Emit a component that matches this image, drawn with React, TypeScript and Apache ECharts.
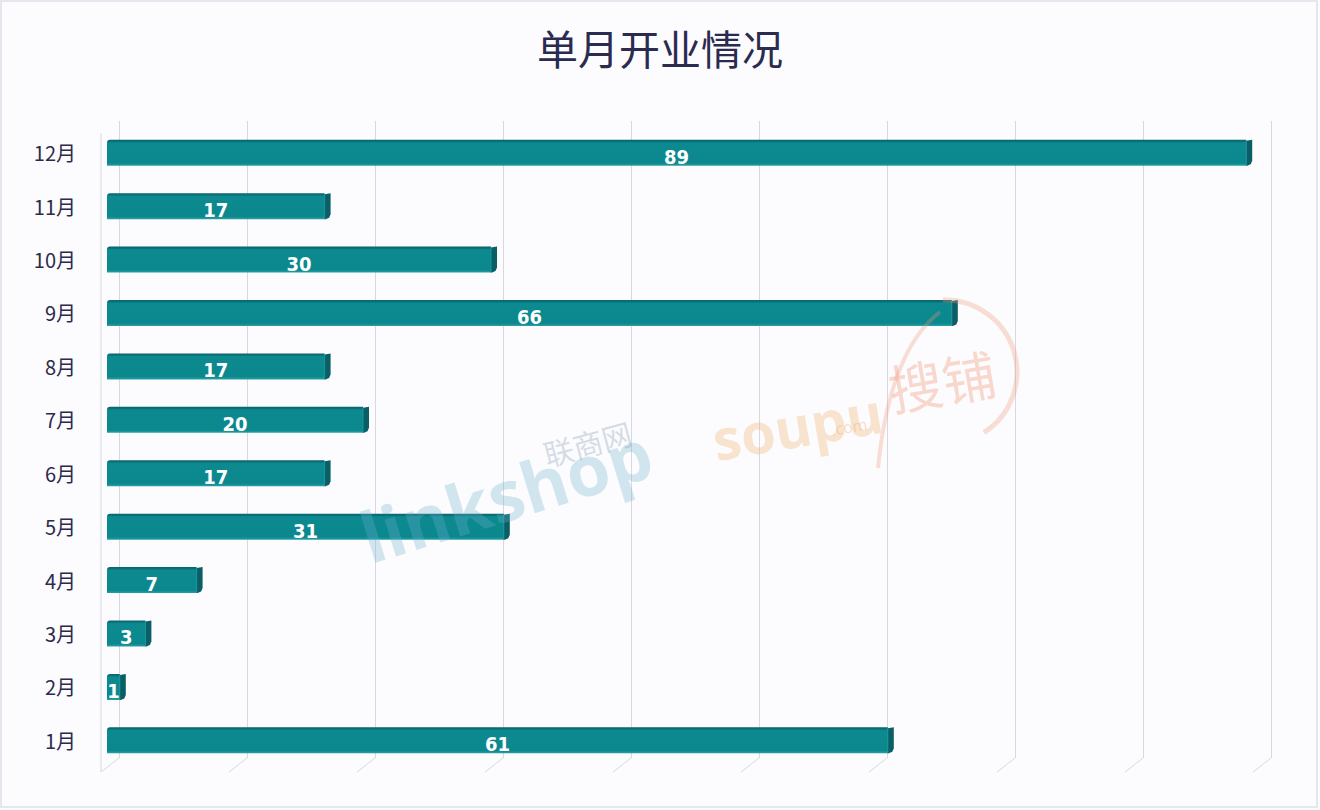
import React, { useEffect, useRef } from "react";
import * as echarts from "echarts";

const titleText = "单月开业情况";
const months = ["1月", "2月", "3月", "4月", "5月", "6月", "7月", "8月", "9月", "10月", "11月", "12月"];
const openings = [61, 1, 3, 7, 31, 17, 20, 17, 66, 30, 17, 89];
const gridTicks = [0, 10, 20, 30, 40, 50, 60, 70, 80, 90];

export default function App() {
  const ref = useRef<HTMLDivElement>(null);
  useEffect(() => {
    if (!ref.current) return;
    const chart = echarts.init(ref.current, null, { renderer: "svg" });
    const bevelData = openings.map((v, i) => [v, i]);
    chart.setOption({
      animation: false,
      backgroundColor: "#fcfcfe",
      title: {
        text: titleText,
        left: "center",
        top: 21,
        textStyle: {
          fontFamily: "Noto Sans CJK SC",
          fontSize: 41,
          fontWeight: "normal",
          color: "#2b2b50",
        },
      },
      graphic: [
        {
          type: "rect",
          shape: { x: 1, y: 1, width: 1316, height: 806 },
          style: { fill: "none", stroke: "#e4e8ee", lineWidth: 2 },
          z: -10,
          silent: true,
        },
        {
          type: "text",
          x: 352,
          y: 505,
          rotation: 0.3,
          style: {
            text: "linkshop",
            fontSize: 70,
            fontWeight: "bold",
            fontFamily: "Open Sans",
            fill: "rgba(110,175,205,0.3)",
          },
          z: 20,
          silent: true,
        },
        {
          type: "text",
          x: 540,
          y: 440,
          rotation: 0.26,
          style: {
            text: "联商网",
            fontSize: 30,
            fontFamily: "Noto Sans CJK SC",
            fill: "rgba(140,160,180,0.35)",
          },
          z: 20,
          silent: true,
        },
        {
          type: "text",
          x: 708,
          y: 412,
          rotation: 0.17,
          style: {
            text: "soupu",
            fontSize: 56,
            fontWeight: "bold",
            fontFamily: "Open Sans",
            fill: "rgba(240,175,110,0.33)",
          },
          z: 20,
          silent: true,
        },
        {
          type: "text",
          x: 830,
          y: 422,
          rotation: 0.17,
          style: {
            text: ".com",
            fontSize: 16,
            fontFamily: "Open Sans",
            fill: "rgba(240,175,110,0.4)",
          },
          z: 20,
          silent: true,
        },
        {
          type: "text",
          x: 884,
          y: 362,
          rotation: 0.17,
          style: {
            text: "搜铺",
            fontSize: 54,
            fontFamily: "Noto Sans CJK SC",
            fill: "rgba(240,150,120,0.36)",
          },
          z: 20,
          silent: true,
        },
        {
          type: "arc",
          shape: { cx: 945, cy: 372, r: 72, startAngle: -1.6, endAngle: 1.0, clockwise: true },
          style: { stroke: "rgba(240,150,120,0.3)", lineWidth: 5, fill: "none" },
          z: 20,
          silent: true,
        },
        {
          type: "bezierCurve",
          shape: { x1: 940, y1: 312, cpx1: 890, cpy1: 350, x2: 878, y2: 468 },
          style: { stroke: "rgba(240,150,120,0.3)", lineWidth: 4, fill: "none" },
          z: 20,
          silent: true,
        },
      ],
      grid: [
        { left: 107, width: 1152, top: 126, bottom: 43 },
        { left: 119, width: 1152, top: 121, bottom: 52 },
      ],
      xAxis: [
        { type: "value", gridIndex: 0, min: 0, max: 90, interval: 10, show: false },
        {
          type: "value",
          gridIndex: 1,
          min: 0,
          max: 90,
          interval: 10,
          axisLabel: { show: false },
          axisLine: { show: false },
          axisTick: { show: false },
          splitLine: { show: true, lineStyle: { color: "#d7d8e2", width: 1 } },
        },
      ],
      yAxis: [
        {
          type: "category",
          gridIndex: 0,
          data: months,
          axisLine: { show: false },
          axisTick: { show: false },
          axisLabel: {
            margin: 31,
            fontSize: 20,
            fontFamily: "Noto Sans CJK SC",
            color: "#2c2a4c",
          },
        },
        {
          type: "value",
          gridIndex: 1,
          min: 0,
          max: 1,
          show: false,
          splitLine: { show: false },
        },
      ],
      series: [
        {
          type: "custom",
          xAxisIndex: 1,
          yAxisIndex: 1,
          clip: false,
          silent: true,
          z: 1,
          data: gridTicks.map((t) => [t]),
          renderItem: (params: any, api: any) => {
            const v = api.value(0);
            const p = api.coord([v, 0]);
            const top = api.coord([v, 1]);
            const style = { stroke: "#d7d8e2", lineWidth: 1 };
            const children: any[] = [
              {
                type: "line",
                shape: { x1: p[0], y1: p[1], x2: p[0] - 18, y2: p[1] + 14 },
                style,
              },
            ];
            if (v === 0) {
              children.push({
                type: "line",
                shape: { x1: p[0] - 18, y1: p[1] + 14, x2: p[0] - 18, y2: top[1] + 12 },
                style,
              });
            }
            return { type: "group", children };
          },
        },
        {
          type: "bar",
          xAxisIndex: 0,
          yAxisIndex: 0,
          data: openings,
          barWidth: 26,
          z: 5,
          itemStyle: {
            borderRadius: [3, 0, 0, 0],
            color: new echarts.graphic.LinearGradient(0, 0, 0, 1, [
              { offset: 0, color: "#0a646b" },
              { offset: 0.07, color: "#0b7078" },
              { offset: 0.12, color: "#0c8a90" },
              { offset: 0.9, color: "#0b888e" },
              { offset: 1, color: "#2aa0a5" },
            ]),
          },
          label: {
            show: true,
            position: "inside",
            offset: [0, 4],
            color: "#ffffff",
            fontSize: 20,
            fontWeight: "bold",
            fontFamily: "DejaVu Sans Condensed",
          },
        },
        {
          type: "custom",
          xAxisIndex: 0,
          yAxisIndex: 0,
          clip: false,
          silent: true,
          z: 6,
          data: bevelData,
          renderItem: (params: any, api: any) => {
            const p = api.coord([api.value(0), api.value(1)]);
            const y0 = p[1] - 13;
            const y1 = p[1] + 13;
            const x = p[0];
            return {
              type: "group",
              children: [
                {
                  type: "polygon",
                  shape: {
                    points: [
                      [x, y0 + 1],
                      [x + 6, y0],
                      [x + 6, y1 - 5],
                      [x + 4.5, y1 - 1.5],
                      [x + 1, y1],
                      [x, y1],
                    ],
                  },
                  style: { fill: "#0a5f66" },
                },
                {
                  type: "line",
                  shape: { x1: x, y1: y0 + 1, x2: x, y2: y1 },
                  style: { stroke: "#1a9398", lineWidth: 1 },
                },
              ],
            };
          },
        },
      ],
    });
    return () => chart.dispose();
  }, []);
  return <div ref={ref} style={{ position: "fixed", left: 0, top: 0, width: 1320, height: 810 }} />;
}
